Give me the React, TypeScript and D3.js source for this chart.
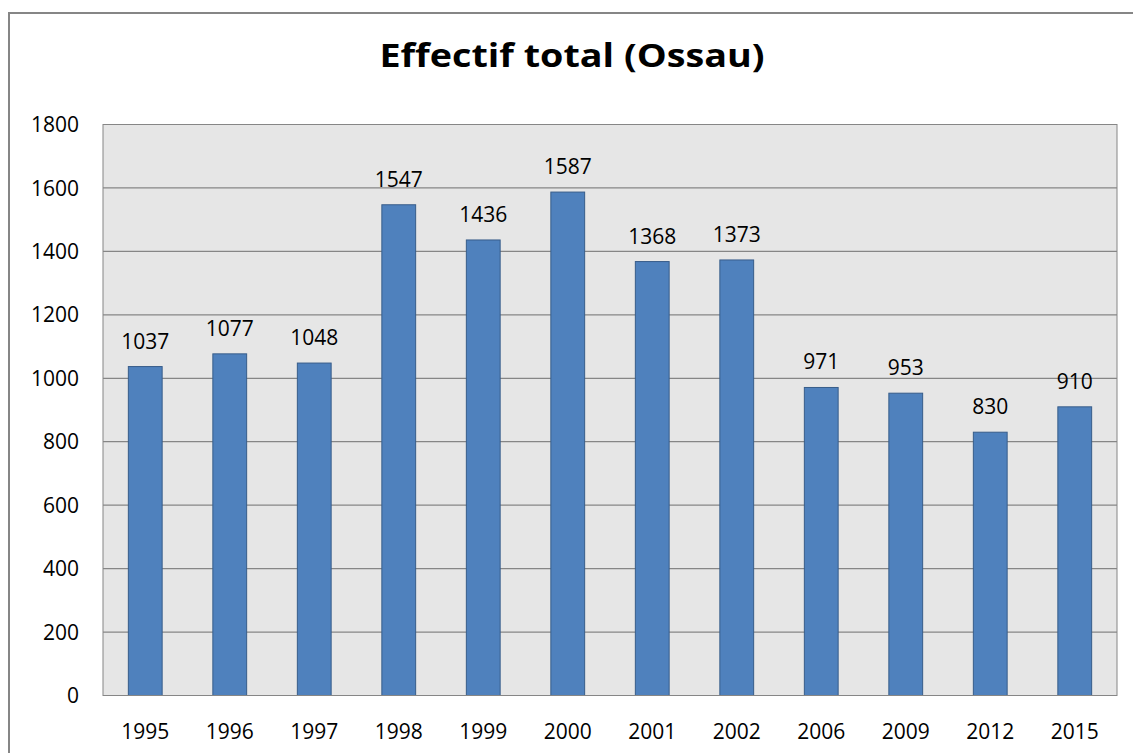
import React from "react";
import * as d3 from "d3";

const years = ["1995", "1996", "1997", "1998", "1999", "2000", "2001", "2002", "2006", "2009", "2012", "2015"];
const effectif = [1037, 1077, 1048, 1547, 1436, 1587, 1368, 1373, 971, 953, 830, 910];
const yTicks = [0, 200, 400, 600, 800, 1000, 1200, 1400, 1600, 1800];
const title = "Effectif total (Ossau)";

const W = 1133;
const H = 753;
const plot = { left: 103, right: 1117, top: 124.5, bottom: 695.5 };
const FONT = "'Open Sans', 'Liberation Sans', sans-serif";

export default function App() {
  const x = d3
    .scaleBand<string>()
    .domain(years)
    .range([plot.left, plot.right])
    .paddingInner(0.6)
    .paddingOuter(0.3);
  const y = d3.scaleLinear().domain([0, 1800]).range([plot.bottom, plot.top]);
  const step = x.step();

  return (
    <svg
      width={W}
      height={H}
      style={{ position: "absolute", left: 0, top: 0, background: "#fff" }}
      fontFamily={FONT}
    >
      <rect x={9} y={13} width={W + 10} height={H + 10} fill="#fff" stroke="#868686" strokeWidth={2} />
      <text
        x={572}
        y={67}
        textAnchor="middle"
        fontSize={33}
        fontWeight="bold"
        fill="#000"
        textLength={385}
        lengthAdjust="spacingAndGlyphs"
      >
        {title}
      </text>
      <rect
        x={plot.left}
        y={plot.top}
        width={plot.right - plot.left}
        height={plot.bottom - plot.top}
        fill="#E6E6E6"
        stroke="#868686"
        strokeWidth={1}
      />
      {yTicks.map((t) => (
        <g key={t}>
          {t > 0 && (
            <line x1={plot.left} x2={plot.right} y1={y(t)} y2={y(t)} stroke="#868686" strokeWidth={1.2} />
          )}
          <text x={79} y={y(t)} dy="0.36em" textAnchor="end" fontSize={21} fill="#000">
            {t}
          </text>
        </g>
      ))}
      {years.map((yr, i) => {
        const x0 = x(yr)!;
        const v = effectif[i];
        return (
          <g key={yr}>
            <rect
              x={x0}
              y={y(v)}
              width={x.bandwidth()}
              height={plot.bottom - y(v)}
              fill="#4F81BD"
              stroke="#385D8A"
              strokeWidth={1}
            />
            <text
              x={x0 + x.bandwidth() / 2}
              y={y(v) - 18}
              textAnchor="middle"
              fontSize={21}
              fill="#000"
            >
              {v}
            </text>
            <text x={x0 + x.bandwidth() / 2} y={731} dy="0.36em" textAnchor="middle" fontSize={21} fill="#000">
              {yr}
            </text>
          </g>
        );
      })}
      <line x1={plot.left} x2={plot.right} y1={plot.bottom} y2={plot.bottom} stroke="#868686" strokeWidth={1} />
      {void step}
    </svg>
  );
}
